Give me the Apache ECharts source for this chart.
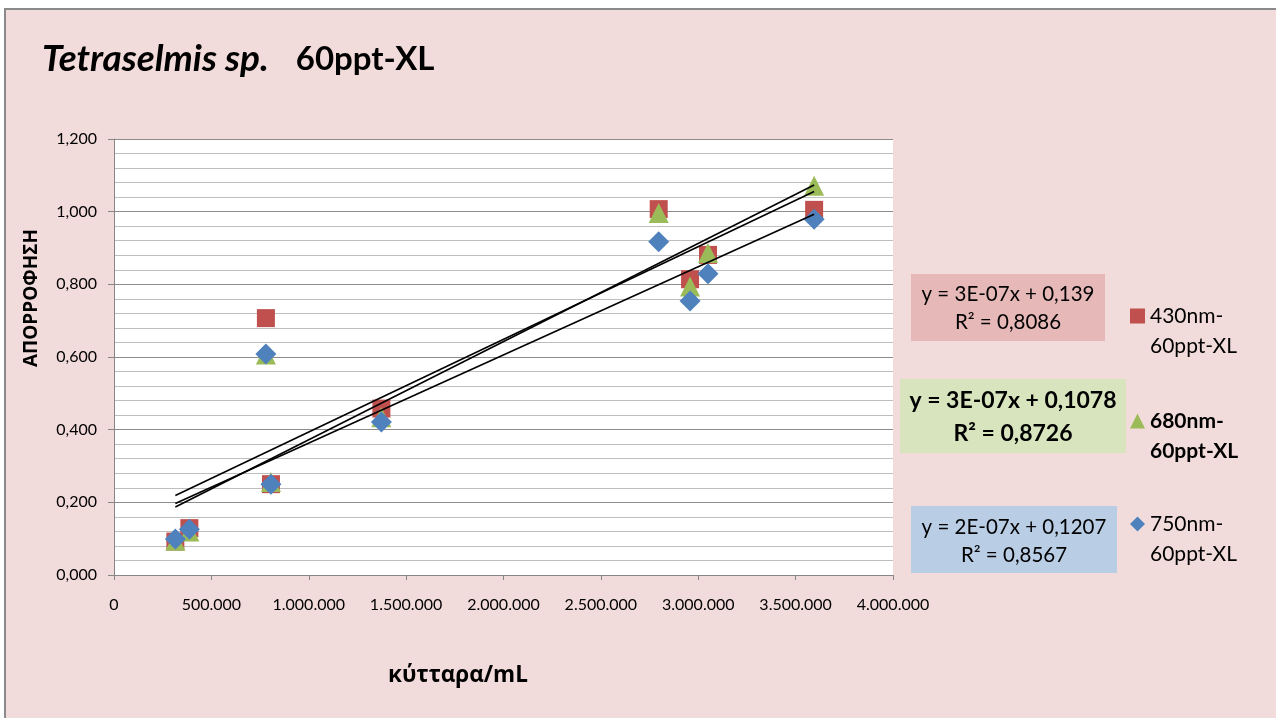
<!DOCTYPE html>
<html>
<head>
<meta charset="utf-8">
<script src="https://cdn.jsdelivr.net/npm/echarts@6/dist/echarts.min.js"></script>
<style>
  html, body { margin: 0; padding: 0; background: #ffffff; }
  #chart { width: 1276px; height: 718px; }
</style>
</head>
<body>
<div id="chart"></div>
<script>
// Cell density (cells/mL) of each sample
const cells = [315000, 387000, 780000, 806000, 1373000, 2797000, 2958000, 3050000, 3595000];
// Absorbance readings per wavelength
const abs430 = [0.092, 0.129, 0.707, 0.250, 0.458, 1.007, 0.814, 0.881, 1.005];
const abs680 = [0.094, 0.120, 0.607, 0.256, 0.434, 0.996, 0.794, 0.886, 1.071];
const abs750 = [0.099, 0.126, 0.608, 0.250, 0.421, 0.917, 0.754, 0.829, 0.979];

const seriesNames = ['430nm-60ppt-XL', '680nm-60ppt-XL', '750nm-60ppt-XL'];
// A leading blank line keeps the icon level with the first text line
const legendLabels = ['\n430nm-\n60ppt-XL', '\n680nm-\n60ppt-XL', '\n750nm-\n60ppt-XL'];
const equations = [
  'y = 3E-07x + 0,139\nR² = 0,8086',
  'y = 3E-07x + 0,1078\nR² = 0,8726',
  'y = 2E-07x + 0,1207\nR² = 0,8567'
];
const yTicks = { min: 0, max: 1.2, step: 0.2 };
const xTicks = { min: 0, max: 4000000, step: 500000 };

const FONT = 'Lato, "Open Sans", sans-serif';
const GREEK_FONT = '"Open Sans", "Noto Sans", sans-serif';
const colors = ['#c0504d', '#9bbb59', '#4f81bd'];
const symbols = ['rect', 'triangle', 'diamond'];
const symbolSizes = [18, 20, 21];
const boxFills = ['#e6b9b8', '#d7e4bd', '#b9cde5'];

// Least-squares linear fit, drawn over the range of the data
function linearFit(xs, ys) {
  const n = xs.length;
  const mx = xs.reduce((a, b) => a + b, 0) / n;
  const my = ys.reduce((a, b) => a + b, 0) / n;
  let sxx = 0, sxy = 0;
  for (let i = 0; i < n; i++) {
    sxx += (xs[i] - mx) * (xs[i] - mx);
    sxy += (xs[i] - mx) * (ys[i] - my);
  }
  const slope = sxy / sxx;
  return { slope, intercept: my - slope * mx };
}

const absorbance = [abs430, abs680, abs750];
const xMin = Math.min(...cells), xMax = Math.max(...cells);

const scatterSeries = absorbance.map((ys, i) => ({
  name: seriesNames[i],
  type: 'scatter',
  symbol: symbols[i],
  symbolSize: symbolSizes[i],
  itemStyle: { color: colors[i], opacity: 1 },
  z: 2 + i,
  data: cells.map((c, k) => [c, ys[k]])
}));

const trendSeries = absorbance.map((ys, i) => {
  const f = linearFit(cells, ys);
  return {
    name: 'trend' + i,
    type: 'line',
    symbol: 'none',
    silent: true,
    z: 10,
    lineStyle: { color: '#000000', width: 1.6 },
    data: [[xMin, f.intercept + f.slope * xMin], [xMax, f.intercept + f.slope * xMax]]
  };
});

const legendTops = [271, 376, 479];
const legends = seriesNames.map((name, i) => ({
  left: 1130,
  top: legendTops[i],
  padding: 0,
  orient: 'vertical',
  itemWidth: 15,
  itemHeight: 15,
  itemGap: 0,
  selectedMode: false,
  data: [{ name: name, icon: i === 0 ? 'rect' : symbols[i] }],
  formatter: () => legendLabels[i],
  textStyle: {
    fontFamily: FONT,
    fontSize: 21,
    fontWeight: i === 1 ? 'bold' : 'normal',
    color: '#000',
    lineHeight: 30
  }
}));

// Equation boxes beside the legend
const boxes = [
  { x: 911, y: 274, w: 194, h: 67, cy: 308, size: 20.5, bold: false, lh: 28 },
  { x: 900, y: 379, w: 226, h: 74, cy: 417, size: 23, bold: true, lh: 33 },
  { x: 911, y: 506, w: 206, h: 67, cy: 541, size: 20.5, bold: false, lh: 28 }
];
const boxGraphics = [];
boxes.forEach((b, i) => {
  boxGraphics.push({
    type: 'rect', z: 20,
    shape: { x: b.x, y: b.y, width: b.w, height: b.h },
    style: { fill: boxFills[i] }
  });
  boxGraphics.push({
    type: 'text', z: 21,
    x: b.x + b.w / 2, y: b.cy,
    style: {
      text: equations[i], fill: '#000',
      font: (b.bold ? 'bold ' : '') + b.size + 'px ' + FONT,
      align: 'center', verticalAlign: 'middle', lineHeight: b.lh
    }
  });
});

const chart = echarts.init(document.getElementById('chart'), null, { renderer: 'canvas' });
chart.setOption({
  backgroundColor: '#ffffff',
  animation: false,
  title: {
    left: 37, top: 36,
    text: '{i|Tetraselmis sp.}{b|60ppt-XL}',
    textStyle: {
      rich: {
        i: { fontFamily: FONT, fontSize: 37, fontWeight: 'bold', fontStyle: 'italic', color: '#000' },
        b: { fontFamily: FONT, fontSize: 33, fontWeight: 'bold', color: '#000', padding: [0, 0, 0, 27] }
      }
    }
  },
  legend: legends,
  grid: {
    left: 114, right: 383, top: 139, bottom: 143,
    show: true, backgroundColor: '#ffffff', borderWidth: 0
  },
  xAxis: {
    type: 'value',
    min: xTicks.min, max: xTicks.max, interval: xTicks.step,
    axisLine: { show: true, onZero: false, lineStyle: { color: '#868686', width: 1 } },
    axisTick: { show: true, inside: false, length: 5, lineStyle: { color: '#868686' } },
    splitLine: { show: false },
    axisLabel: {
      margin: 22, color: '#000', fontFamily: FONT, fontSize: 16,
      formatter: v => String(v).replace(/\B(?=(\d{3})+(?!\d))/g, '.')
    }
  },
  yAxis: {
    type: 'value',
    min: yTicks.min, max: yTicks.max, interval: yTicks.step,
    axisLine: { show: true, lineStyle: { color: '#868686', width: 1 } },
    axisTick: { show: true, inside: false, length: 6, lineStyle: { color: '#868686' } },
    minorTick: { show: false, splitNumber: 5 },
    splitLine: { show: true, lineStyle: { color: '#8c8c8c', width: 1.2 } },
    minorSplitLine: { show: true, lineStyle: { color: '#bebebe', width: 1.2 } },
    axisLabel: {
      margin: 17, color: '#000', fontFamily: FONT, fontSize: 16,
      formatter: v => v.toFixed(3).replace('.', ',')
    }
  },
  graphic: [
    {
      type: 'rect', z: -100, silent: true,
      shape: { x: 5, y: 9, width: 1300, height: 740 },
      style: { fill: '#f2dcdb', stroke: '#8a8a8a', lineWidth: 2 }
    },
    {
      type: 'text', z: 5,
      x: 32, y: 298, rotation: Math.PI / 2,
      style: {
        text: 'ΑΠΟΡΡΟΦΗΣΗ', fill: '#000', font: 'bold 19px ' + GREEK_FONT,
        align: 'center', verticalAlign: 'middle'
      }
    },
    {
      type: 'text', z: 5,
      x: 458, y: 676,
      style: {
        text: 'κύτταρα/mL', fill: '#000', font: 'bold 22.5px ' + GREEK_FONT,
        align: 'center', verticalAlign: 'middle'
      }
    }
  ].concat(boxGraphics),
  series: scatterSeries.concat(trendSeries)
});
</script>
</body>
</html>
